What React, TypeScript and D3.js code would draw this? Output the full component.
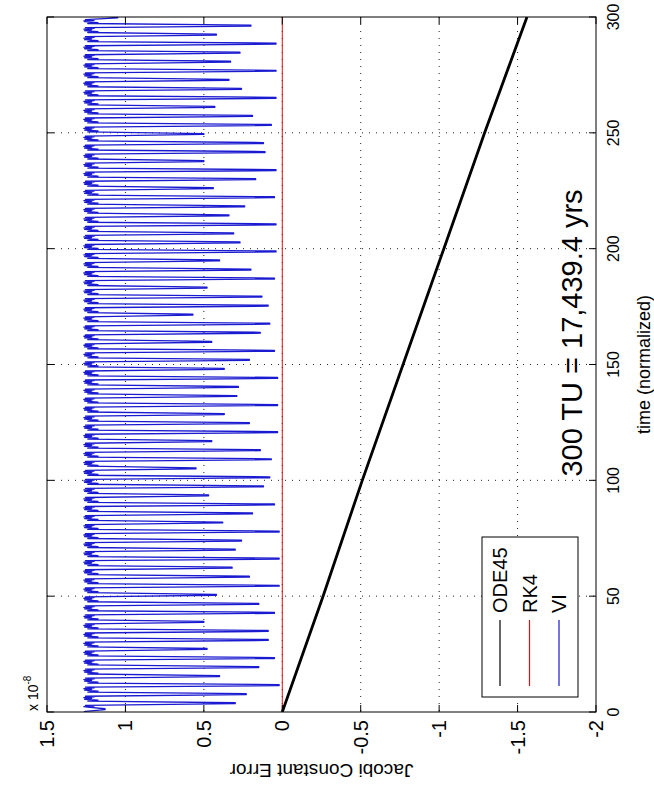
import React from 'react';
import * as d3 from 'd3';

// time (normalized) ticks and Jacobi error ticks (x 10^-8)
const TIME_TICKS = [0, 50, 100, 150, 200, 250, 300];
const ERR_TICKS = [1.5, 1, 0.5, 0, -0.5, -1, -1.5, -2];
const ERR_LABELS = ['1.5', '1', '0.5', '0', '-0.5', '-1', '-1.5', '-2'];

// ODE45: steady linear drift
const ODE_T = [0, 50, 100, 150, 200, 250, 300];
const ODE_V = [0, -0.26, -0.51, -0.77, -1.03, -1.29, -1.56];

// RK4: flat at zero
const RK4_T = [0, 300];
const RK4_V = [0, 0];

// VI: baseline with periodic spikes (spike times and spike minima)
const VI_TIMES = [
  1.2, 3.8, 7.7, 11.6, 15.5, 19.4, 23.3, 27.2, 31.1, 35.0, 38.9, 42.8, 46.7, 50.6, 54.5, 58.4,
  62.3, 66.2, 70.1, 74.0, 77.9, 81.8, 85.7, 89.6, 93.5, 97.4, 101.3, 105.2, 109.1, 113.0, 116.9,
  120.8, 124.7, 128.6, 132.5, 136.4, 140.3, 144.2, 148.1, 152.0, 155.9, 159.8, 163.7, 167.6,
  171.5, 175.4, 179.3, 183.2, 187.1, 191.0, 194.9, 198.8, 202.7, 206.6, 210.5, 214.4, 218.3,
  222.2, 226.1, 230.0, 233.9, 237.8, 241.7, 245.6, 249.5, 253.4, 257.3, 261.2, 265.1, 269.0,
  272.9, 276.8, 280.7, 284.6, 288.5, 292.4, 296.3, 299.8,
];
const VI_MINS = [
  1.13, 0.30, 0.23, 0.02, 0.40, 0.15, 0.05, 0.48, 0.09, 0.09, 0.50, 0.05, 0.15, 0.42, 0.02, 0.21,
  0.32, 0.02, 0.30, 0.26, 0.02, 0.38, 0.19, 0.05, 0.47, 0.12, 0.08, 0.55, 0.07, 0.14, 0.45,
  0.03, 0.21, 0.37, 0.03, 0.29, 0.28, 0.03, 0.37, 0.21, 0.05, 0.45, 0.14, 0.08,
  0.57, 0.09, 0.13, 0.48, 0.05, 0.20, 0.40, 0.04, 0.27, 0.31, 0.04, 0.34, 0.24,
  0.05, 0.44, 0.17, 0.04, 0.50, 0.11, 0.12, 0.50, 0.07, 0.19, 0.43, 0.04, 0.26,
  0.34, 0.04, 0.33, 0.27, 0.04, 0.42, 0.20, 1.05,
];
const VI_BASE = 1.265;
// shape around each spike: lead-in, flat tip half-width, ripple after: [time offset, value]
const VI_LEAD = [[-1.5, 1.265], [-1.2, 1.2], [-0.9, 1.255]];
const VI_TIP = [-0.2, 0.2];
const VI_RIPPLE = [[0.9, 1.24], [1.3, 1.175], [1.7, 1.26], [2.1, 1.215], [2.4, 1.265]];

const LEGEND = [
  { name: 'ODE45', color: '#000000' },
  { name: 'RK4', color: '#e01010' },
  { name: 'VI', color: '#1a1ad0' },
];

const FONT = 'Liberation Sans, Arial, Helvetica, sans-serif';

const App = () => {
  const W = 654;
  const H = 800;
  const left = 47, right = 596, top = 17, bottom = 712;

  // the figure is turned a quarter turn: time runs up, error runs right-to-left
  const x = d3.scaleLinear().domain([1.5, -2]).range([left, right]);
  const y = d3.scaleLinear().domain([0, 300]).range([bottom, top]);

  const line = d3.line<[number, number]>()
    .x(d => x(d[1]))
    .y(d => y(d[0]));

  const odePts: [number, number][] = ODE_T.map((t, i) => [t, ODE_V[i]]);
  const rkPts: [number, number][] = RK4_T.map((t, i) => [t, RK4_V[i]]);

  const viPts: [number, number][] = [[0, VI_BASE]];
  VI_TIMES.forEach((t, i) => {
    const prev = viPts[viPts.length - 1][0];
    const next = i < VI_TIMES.length - 1 ? VI_TIMES[i + 1] - 1.55 : 303;
    VI_LEAD.forEach(([dt, v]) => {
      if (t + dt > prev) viPts.push([t + dt, v]);
    });
    VI_TIP.forEach(dt => viPts.push([t + dt, VI_MINS[i]]));
    VI_RIPPLE.forEach(([dt, v]) => {
      if (t + dt < next) viPts.push([t + dt, v]);
    });
  });

  const gridV = ERR_TICKS.filter(v => v < 1.5 && v > -2);
  const gridT = TIME_TICKS.filter(t => t > 0 && t < 300);

  return (
    <svg width={W} height={H} style={{ position: 'absolute', left: 0, top: 0, background: '#fff' }}
      fontFamily={FONT}>
      <defs>
        <clipPath id="plotClip">
          <rect x={left} y={top} width={right - left} height={bottom - top} />
        </clipPath>
      </defs>
      <rect x={0} y={0} width={W} height={H} fill="#fff" />

      {/* grid */}
      {gridV.map(v => (
        <line key={'gv' + v} x1={x(v)} x2={x(v)} y1={top} y2={bottom}
          stroke="#222" strokeWidth={1} strokeDasharray="1,6" />
      ))}
      {gridT.map(t => (
        <line key={'gt' + t} x1={left} x2={right} y1={y(t)} y2={y(t)}
          stroke="#222" strokeWidth={1} strokeDasharray="1,6" />
      ))}

      {/* data */}
      <g clipPath="url(#plotClip)">
        <path d={line(viPts) || ''} fill="none" stroke="#1a1ad0" strokeWidth={1.3} strokeLinejoin="round" />
        <path d={line(rkPts) || ''} fill="none" stroke="#e01010" strokeWidth={1} />
        <path d={line(odePts) || ''} fill="none" stroke="#000" strokeWidth={2.8} />
      </g>

      {/* frame and ticks */}
      <rect x={left} y={top} width={right - left} height={bottom - top} fill="none" stroke="#000" strokeWidth={1} />
      {ERR_TICKS.map(v => (
        <g key={'te' + v}>
          <line x1={x(v)} x2={x(v)} y1={bottom} y2={bottom - 7} stroke="#000" />
          <line x1={x(v)} x2={x(v)} y1={top} y2={top + 7} stroke="#000" />
        </g>
      ))}
      {TIME_TICKS.map(t => (
        <g key={'tt' + t}>
          <line x1={left} x2={left + 7} y1={y(t)} y2={y(t)} stroke="#000" />
          <line x1={right} x2={right - 7} y1={y(t)} y2={y(t)} stroke="#000" />
        </g>
      ))}

      {/* error tick labels */}
      {ERR_TICKS.map((v, i) => (
        <text key={'le' + v} transform={`translate(${x(v)},${bottom + 8}) rotate(-90)`}
          textAnchor="end" dy="0.35em" fontSize={20} fill="#000">{ERR_LABELS[i]}</text>
      ))}
      {/* time tick labels */}
      {TIME_TICKS.map(t => (
        <text key={'lt' + t} transform={`translate(${right + 23},${y(t)}) rotate(-90)`}
          textAnchor="middle" fontSize={16} fill="#000">{t}</text>
      ))}

      {/* exponent */}
      <text transform={`translate(38,${bottom - 1}) rotate(-90)`} fontSize={14} fill="#000">
        x 10<tspan fontSize={10} dy={-7}>-8</tspan>
      </text>

      {/* axis titles */}
      <text transform={`translate(650,${y(150)}) rotate(-90)`} textAnchor="middle" fontSize={18} fill="#000">
        time (normalized)
      </text>
      <text transform={`translate(${(left + right) / 2},764) rotate(180)`} textAnchor="middle" fontSize={19} fill="#000">
        Jacobi Constant Error
      </text>

      {/* annotation */}
      <text transform={`translate(582,333) rotate(-90)`} textAnchor="middle" fontSize={29} fill="#000">
        300 TU = 17,439.4 yrs
      </text>

      {/* legend */}
      <rect x={482} y={537} width={96} height={160} fill="#fff" stroke="#000" strokeWidth={1} />
      {LEGEND.map((d, i) => {
        const lx = 500 + i * 29.5;
        return (
          <g key={d.name}>
            <line x1={lx} x2={lx} y1={620} y2={686} stroke={d.color} strokeWidth={1.2} />
            <text transform={`translate(${lx},613) rotate(-90)`} dy="0.35em" fontSize={20} fill="#000">
              {d.name}
            </text>
          </g>
        );
      })}
    </svg>
  );
};

export default App;
